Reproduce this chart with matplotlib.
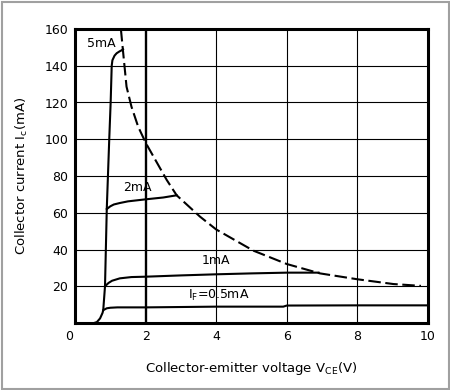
import matplotlib
matplotlib.use("Agg")
import matplotlib.pyplot as plt
from matplotlib.transforms import ScaledTranslation
from matplotlib.patches import Rectangle

# ---- data ----
x_ticks = [0, 2, 4, 6, 8, 10]
x_tick_labels = ["0", "2", "4", "6", "8", "10"]
y_ticks = [20, 40, 60, 80, 100, 120, 140, 160]
y_tick_labels = ["20", "40", "60", "80", "100", "120", "140", "160"]

v_5ma = [0.54, 0.62, 0.71, 0.78, 0.80, 0.85, 0.90, 0.97, 1.01, 1.04, 1.06, 1.12, 1.18, 1.26, 1.32, 1.36]
i_5ma = [0.0, 0.5, 2.5, 5.5, 7.0, 20.0, 62.0, 100.0, 120.0, 140.0, 143.0, 145.5, 146.8, 147.8, 148.4, 149.0]

v_2ma = [0.90, 1.0, 1.1, 1.27, 1.5, 2.0, 2.5, 2.88]
i_2ma = [62.0, 63.5, 64.5, 65.3, 66.2, 67.3, 68.3, 69.5]

v_1ma = [0.85, 0.95, 1.05, 1.27, 1.6, 2.0, 3.0, 4.0, 5.0, 6.0, 6.9]
i_1ma = [20.0, 21.8, 23.0, 24.3, 25.0, 25.2, 25.9, 26.5, 27.0, 27.4, 27.4]

v_05ma = [0.80, 0.90, 1.0, 1.2, 2.0, 4.0, 5.9, 6.0, 8.0, 10.0]
i_05ma = [7.0, 8.0, 8.3, 8.5, 8.5, 8.9, 8.9, 9.5, 9.6, 9.6]

v_pmax = [1.30, 1.36, 1.46, 1.60, 1.79, 2.01, 2.6, 2.88, 3.54, 4.0, 5.05, 6.0, 6.94, 8.0, 9.02, 9.8]
i_pmax = [160.0, 148.0, 128.6, 117.7, 106.8, 97.8, 77.8, 69.5, 57.9, 50.9, 39.4, 32.1, 27.0, 23.8, 21.2, 20.2]

W, H = 450, 390
fig = plt.figure(figsize=(W / 100, H / 100), dpi=100)
fig.patch.set_facecolor("white")
ax = fig.add_axes([75 / W, 1 - 323 / H, (428 - 75) / W, (323 - 29) / H])

# grid
for x in x_ticks[1:-1]:
    ax.axvline(x, color="black", lw=1.7 if x == 2 else 0.8, zorder=1)
for y in y_ticks[:-1]:
    ax.axhline(y, color="black", lw=0.8, zorder=1)

lw = 1.5
ax.plot(v_5ma, i_5ma, color="black", lw=lw, zorder=3)
ax.plot(v_2ma, i_2ma, color="black", lw=lw, zorder=3)
ax.plot(v_1ma, i_1ma, color="black", lw=lw, zorder=3)
ax.plot(v_05ma, i_05ma, color="black", lw=lw, zorder=3)
ax.plot(v_pmax, i_pmax, color="black", lw=lw, dashes=(6, 2.2), zorder=3)

fs = 9
ax.text(0.74, 152, "5mA", fontsize=fs, ha="center", va="center")
ax.text(1.78, 74, "2mA", fontsize=fs, ha="center", va="center")
ax.text(4.0, 34, "1mA", fontsize=fs, ha="center", va="center")
ax.text(4.08, 15, r"I$\mathregular{_F}$=0.5mA", fontsize=fs, ha="center", va="center")

ax.set_xlim(0, 10)
ax.set_ylim(0, 160)
ax.set_xticks(x_ticks)
ax.set_xticklabels(x_tick_labels)
ax.set_yticks(y_ticks)
ax.set_yticklabels(y_tick_labels)
ax.tick_params(length=0, labelsize=fs, pad=5)
lbl0 = ax.get_xticklabels()[0]
lbl0.set_transform(lbl0.get_transform() + ScaledTranslation(-6 / 100, 0, fig.dpi_scale_trans))
for s in ax.spines.values():
    s.set_linewidth(2.2)
    s.set_zorder(4)

ax.set_xlabel(r"Collector-emitter voltage V$\mathregular{_{CE}}$(V)", fontsize=fs + 0.5, labelpad=12)
ax.set_ylabel(r"Collector current I$\mathregular{_c}$(mA)", fontsize=fs + 0.5, labelpad=10)

# outer grey frame
fig.patches.append(Rectangle((1.5 / W, 1.5 / H), 1 - 3 / W, 1 - 3 / H, transform=fig.transFigure,
                             fill=False, edgecolor="#a0a0a0", lw=1.5))

fig.savefig("out.png", dpi=100)
